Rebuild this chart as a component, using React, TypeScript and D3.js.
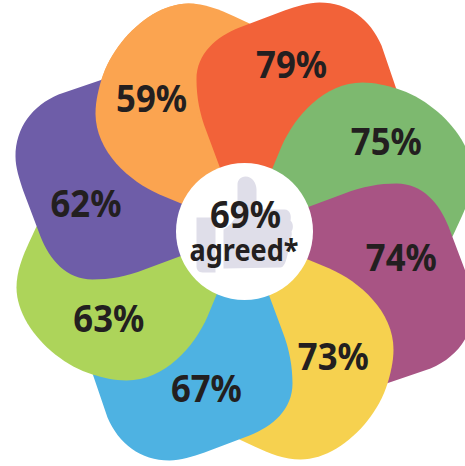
import React from "react";
import * as d3 from "d3";

const WIDTH = 465;
const HEIGHT = 466;

// Petals clockwise from the upper orange one.
const petalValues = [59, 79, 75, 74, 73, 67, 63, 62];
const petalColors = ["#fba450", "#f26239", "#7db96f", "#a85484", "#f6d14f", "#4eb2e2", "#add45a", "#6e5da8"];
const labelAngles = [325, 15.7, 57.6, 99.4, 144.5, 193.6, 237.4, 280];
const labelRadii = [162, 174, 168, 159, 153, 162, 161, 161];
const overallValue = 69;
const overallCaption = "agreed*";

const center = { x: 244.5, y: 231.5 };
const holeRadius = 68.5;

// Rounder petal, drawn in the upper-left position; turned in quarter steps for every other petal.
function buildRoundPetal() {
  const p = d3.path();
  p.moveTo(-20, -10);
  p.lineTo(-85, -37);
  p.bezierCurveTo(-115, -50, -149, -80, -149, -118);
  p.bezierCurveTo(-149, -130, -146, -142, -143, -152);
  p.bezierCurveTo(-135, -178, -115, -203, -92, -217);
  p.bezierCurveTo(-80, -224, -68, -228, -56, -228);
  p.bezierCurveTo(-40, -228, -25, -222, -10, -215);
  p.lineTo(5, -208);
  p.lineTo(40, -150);
  p.lineTo(20, -30);
  p.closePath();
  return p.toString();
}

// Squarer petal, drawn in the upper-right position; turned the same way for the rest.
function buildSquarePetal() {
  const p = d3.path();
  p.moveTo(-25, -65);
  p.lineTo(-38, -100);
  p.bezierCurveTo(-45, -118, -48, -135, -48, -152);
  p.bezierCurveTo(-48, -178, -28, -195, -5, -204);
  p.lineTo(40, -221);
  p.bezierCurveTo(52, -225, 64, -229, 75, -229);
  p.bezierCurveTo(104, -229, 126, -212, 137, -186);
  p.lineTo(152, -142);
  p.lineTo(100, -70);
  p.lineTo(30, -10);
  p.lineTo(-15, -30);
  p.closePath();
  return p.toString();
}

const petalShapes = [buildRoundPetal(), buildSquarePetal()];

const thumbHand =
  "M-7,-47 C-7,-51 -4,-55 1,-55 C8,-55 12,-48 12,-42 L12,-22 L40,-22 C46,-22 47,-15 46,-11 C49,-8 49,-3 47,0 C48,4 46,8 44,10 C45,16 42,36 36,36 L-21,37 L-21,-2 C-14,-6 -7,-14 -7,-24 Z";
const thumbCuff = "M-48,-14 L-29,-14 L-29,41 L-42,41 C-46,41 -48,38 -48,35 Z";

// The overlap runs in a full circle, so the first petal is repainted over the last one,
// up to just short of the edge of the second petal.
const repaintRegion: [number, number][] = [
  [-50, -240], [-50, -132], [-42, -100], [-27, -65], [0, 0], [-240, 0], [-240, -240],
];

const ink = "#231f20";
const fontFamily = "'Noto Sans', 'Open Sans', sans-serif";

function Petal({ index }: { index: number }) {
  const quarterTurns = Math.floor(index / 2);
  return (
    <path
      d={petalShapes[index % 2]}
      fill={petalColors[index]}
      transform={`rotate(${quarterTurns * 90})`}
    />
  );
}

export default function App() {
  return (
    <svg
      width={WIDTH}
      height={HEIGHT}
      viewBox={`0 0 ${WIDTH} ${HEIGHT}`}
      style={{ position: "absolute", left: 0, top: 0, background: "#fff" }}
    >
      <defs>
        <clipPath id="first-petal-over-last">
          <path d={d3.line()(repaintRegion) + "Z"} />
        </clipPath>
      </defs>
      <g transform={`translate(${center.x},${center.y})`}>
        {petalValues.map((_, i) => (
          <Petal key={i} index={i} />
        ))}
        <g clipPath="url(#first-petal-over-last)">
          <Petal index={0} />
        </g>
        <circle r={holeRadius} fill="#fff" />
        <path d={thumbHand} fill="#dfdee9" />
        <path d={thumbCuff} fill="#dfdee9" />
        {petalValues.map((v, i) => {
          const a = (labelAngles[i] * Math.PI) / 180;
          return (
            <text
              key={v}
              x={labelRadii[i] * Math.sin(a)}
              y={-labelRadii[i] * Math.cos(a) + 13.5}
              textAnchor="middle"
              textLength={71}
              lengthAdjust="spacingAndGlyphs"
              fontFamily={fontFamily}
              fontWeight={700}
              fontSize={38}
              fill={ink}
            >
              {v}%
            </text>
          );
        })}
        <text
          x={1}
          y={-3.5}
          textAnchor="middle"
          textLength={71}
          lengthAdjust="spacingAndGlyphs"
          fontFamily={fontFamily}
          fontWeight={700}
          fontSize={37}
          fill={ink}
        >
          {overallValue}%
        </text>
        <text
          x={-0.5}
          y={29}
          textAnchor="middle"
          textLength={109}
          lengthAdjust="spacingAndGlyphs"
          fontFamily={fontFamily}
          fontWeight={700}
          fontSize={31}
          fill={ink}
        >
          {overallCaption}
        </text>
      </g>
    </svg>
  );
}
